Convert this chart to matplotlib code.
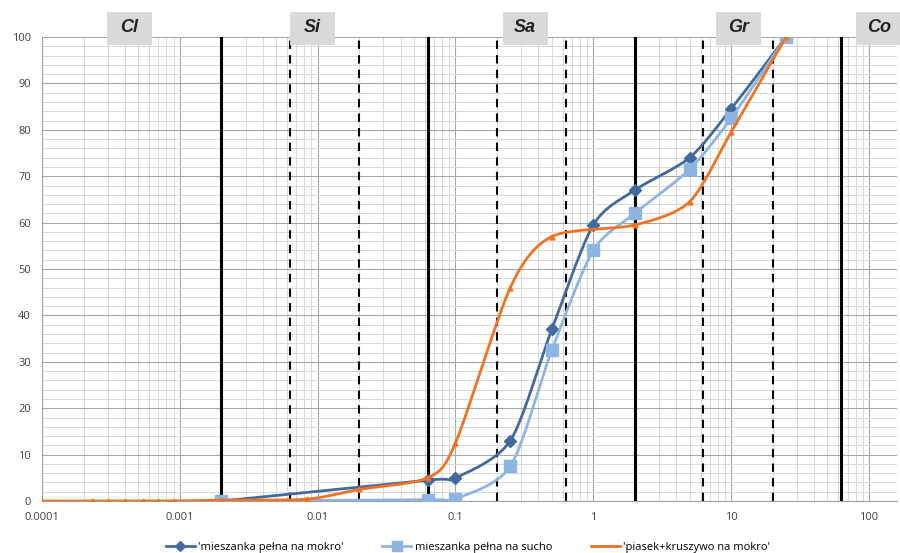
import numpy as np
import matplotlib.pyplot as plt
from matplotlib.patches import Rectangle
from matplotlib.transforms import blended_transform_factory
from matplotlib.ticker import FixedLocator, NullFormatter

# grain size [mm] and passing [%]
d_wet = [0.002, 0.063, 0.1, 0.25, 0.5, 1, 2, 5, 10, 25]
p_wet = [0, 4.5, 5.0, 13, 37, 59.5, 67, 74, 84.5, 100]

d_dry = [0.002, 0.063, 0.1, 0.25, 0.5, 1, 2, 5, 10, 25]
p_dry = [0, 0.3, 0.5, 7.5, 32.5, 54, 62, 71.5, 82.5, 100]

d_sand = [0.0001, 0.00023, 0.0003, 0.0004, 0.00054, 0.0007, 0.0009, 0.002, 0.0083,
          0.02, 0.063, 0.1, 0.25, 0.5, 2, 5, 10, 25]
p_sand = [0, 0, 0, 0, 0, 0, 0, 0.2, 0.4, 2.5, 5.0, 12.5, 46, 57, 59.5, 64.5, 79.5, 100]

labels = ["'mieszanka pełna na mokro'", "mieszanka pełna na sucho", "'piasek+kruszywo na mokro'"]

# fraction boundaries (PN-EN ISO 14688)
solid_lines = [0.002, 0.063, 2, 63]
dashed_lines = [0.0063, 0.02, 0.2, 0.63, 6.3, 20]
fractions = ['Cl', 'Si', 'Sa', 'Gr', 'Co']
fraction_x = [0.00043, 0.0092, 0.32, 11.4, 118]

c_wet = '#436a9e'
c_dry = '#8eb4e3'
c_sand = '#f07323'


def smooth(xs, ys, n=40):
    # catmull-rom through points in log-x space, like excel smoothed lines
    lx = np.log10(xs)
    y = np.asarray(ys, float)
    px = np.concatenate([[2 * lx[0] - lx[1]], lx, [2 * lx[-1] - lx[-2]]])
    py = np.concatenate([[2 * y[0] - y[1]], y, [2 * y[-1] - y[-2]]])
    outx, outy = [], []
    t = np.linspace(0, 1, n)
    for i in range(1, len(px) - 2):
        for arr, out in ((px, outx), (py, outy)):
            p0, p1, p2, p3 = arr[i - 1], arr[i], arr[i + 1], arr[i + 2]
            m1 = (p2 - p0) / 2 * 0.8
            m2 = (p3 - p1) / 2 * 0.8
            h00 = 2 * t**3 - 3 * t**2 + 1
            h10 = t**3 - 2 * t**2 + t
            h01 = -2 * t**3 + 3 * t**2
            h11 = t**3 - t**2
            out.extend(h00 * p1 + h10 * m1 + h01 * p2 + h11 * m2)
    return 10 ** np.array(outx), np.array(outy)


fig = plt.figure(figsize=(9, 5.53), dpi=100)
plt.rcParams['font.family'] = ['Open Sans', 'DejaVu Sans']
ax = fig.add_axes([0.0467, 0.094, 0.95, 0.839])
ax.set_xscale('log')
ax.set_xlim(0.0001, 160)
ax.set_ylim(0, 100)

# grid
ax.yaxis.set_major_locator(FixedLocator(range(0, 101, 10)))
ax.yaxis.set_minor_locator(FixedLocator(range(0, 101, 2)))
ax.grid(which='major', color='#a6a6a6', lw=0.8)
ax.grid(which='minor', color='#d9d9d9', lw=0.7)
ax.set_axisbelow(True)
ax.xaxis.set_minor_formatter(NullFormatter())
ax.set_xticks([0.0001, 0.001, 0.01, 0.1, 1, 10, 100])
ax.set_xticklabels(['0.0001', '0.001', '0.01', '0.1', '1', '10', '100'])
ax.tick_params(axis='both', which='both', length=0, labelsize=8, colors='#404040')
ax.tick_params(axis='x', pad=8)
ax.tick_params(axis='y', pad=8)
for s in ['top', 'right']:
    ax.spines[s].set_visible(False)
for s in ['left', 'bottom']:
    ax.spines[s].set_color('#a0a0a0')

for x in solid_lines:
    ax.axvline(x, color='black', lw=2.2, zorder=2)
for x in dashed_lines:
    ax.axvline(x, color='black', lw=1.5, ls=(0, (4, 3)), zorder=2)

# curves
sx, sy = smooth(d_wet, p_wet)
ax.plot(sx, sy, color=c_wet, lw=2, zorder=3)
ax.plot(d_wet, p_wet, 'D', color=c_wet, ms=6, zorder=3)
sx, sy = smooth(d_dry, p_dry)
ax.plot(sx, sy, color=c_dry, lw=2, zorder=3)
ax.plot(d_dry, p_dry, 's', color=c_dry, ms=8, zorder=3)
sx, sy = smooth(d_sand, p_sand)
ax.plot(sx, sy, color=c_sand, lw=2, zorder=4)
ax.plot(d_sand, p_sand, '^', color=c_sand, ms=3.5, zorder=4)

# fraction labels in grey boxes above the plot
tr = blended_transform_factory(ax.transData, ax.transAxes)
half = 10 ** 0.163
for name, x in zip(fractions, fraction_x):
    ax.add_patch(Rectangle((x / half, 0.983), x * half - x / half, 0.071, transform=tr,
                           fc='#d9d9d9', ec='none', clip_on=False, zorder=5))
    ax.text(x, 1.02, name, transform=tr, ha='center', va='center', fontsize=13,
            fontweight='bold', fontstyle='italic', family=['Liberation Sans'],
            color='#222222', clip_on=False, zorder=6)

# legend
h1, = ax.plot([], [], '-D', color=c_wet, lw=2, ms=5)
h2, = ax.plot([], [], '-s', color=c_dry, lw=2, ms=7)
h3, = ax.plot([], [], '-', color=c_sand, lw=2)
fig.legend([h1, h2, h3], labels, loc='lower center', bbox_to_anchor=(0.52, -0.018), ncol=3,
           frameon=False, fontsize=8, handlelength=2.6, columnspacing=3.5, handletextpad=0.3)

fig.savefig('out.png', dpi=100)
